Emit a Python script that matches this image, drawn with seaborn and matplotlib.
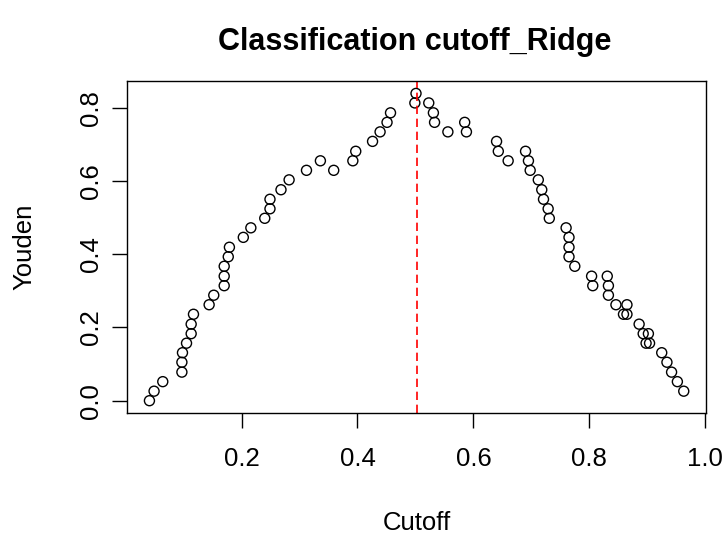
import matplotlib
matplotlib.use("Agg")
import matplotlib.pyplot as plt
import seaborn as sns
import pandas as pd

cutoff = [0.041, 0.049, 0.064, 0.097, 0.097, 0.098, 0.105, 0.113, 0.113, 0.117,
          0.144, 0.152, 0.170, 0.170, 0.170, 0.177, 0.179, 0.203, 0.216, 0.240,
          0.249, 0.249, 0.268, 0.282, 0.312, 0.336, 0.359, 0.392, 0.397, 0.426,
          0.439, 0.451, 0.457, 0.499, 0.501,
          0.523, 0.531, 0.533, 0.556, 0.585, 0.588, 0.640, 0.643, 0.660, 0.690,
          0.695, 0.698, 0.712, 0.718, 0.721, 0.729, 0.731, 0.760, 0.765, 0.765,
          0.765, 0.775, 0.804, 0.806, 0.831, 0.833, 0.833, 0.846, 0.865, 0.859,
          0.865, 0.886, 0.893, 0.902, 0.898, 0.904, 0.925, 0.934, 0.942, 0.952,
          0.963]
youden = [0.000, 0.026, 0.052, 0.078, 0.105, 0.131, 0.157, 0.183, 0.209, 0.236,
          0.262, 0.288, 0.314, 0.340, 0.367, 0.393, 0.419, 0.446, 0.472, 0.498,
          0.524, 0.550, 0.576, 0.603, 0.629, 0.655, 0.629, 0.655, 0.681, 0.708,
          0.734, 0.760, 0.786, 0.813, 0.839,
          0.813, 0.786, 0.760, 0.734, 0.760, 0.734, 0.708, 0.681, 0.655, 0.681,
          0.655, 0.629, 0.603, 0.576, 0.550, 0.524, 0.498, 0.472, 0.446, 0.419,
          0.393, 0.367, 0.340, 0.314, 0.340, 0.314, 0.288, 0.262, 0.262, 0.236,
          0.236, 0.209, 0.183, 0.183, 0.157, 0.157, 0.131, 0.105, 0.078, 0.052,
          0.026]
best_cutoff = 0.503
x_ticks = [0.2, 0.4, 0.6, 0.8, 1.0]
y_ticks = [0.0, 0.2, 0.4, 0.6, 0.8]
title = "Classification cutoff_Ridge"
x_label = "Cutoff"
y_label = "Youden"

df = pd.DataFrame({"Cutoff": cutoff, "Youden": youden})

sns.set_style("ticks")
plt.rcParams["font.family"] = ["Liberation Sans", "DejaVu Sans"]
plt.rcParams["text.color"] = "black"
plt.rcParams["axes.labelcolor"] = "black"

W, H = 722, 537
fig = plt.figure(figsize=(W / 100, H / 100), dpi=100)
L, R, T, B = 127.3, 706.0, 80.7, 413.3
ax = fig.add_axes([L / W, 1 - B / H, (R - L) / W, (B - T) / H])

sns.scatterplot(data=df, x="Cutoff", y="Youden", ax=ax, marker="o", s=52,
                facecolors="none", edgecolor="black", linewidth=1.0, legend=False)
ax.axvline(best_cutoff, color="#ff0000", linestyle=(0, (5, 2.8)), linewidth=1.2)

ax.set_xlim(0.0028, 1.0014)
ax.set_ylim(-0.0344, 0.8737)
ax.set_xticks(x_ticks)
ax.set_xticklabels([f"{v:.1f}" for v in x_ticks])
ax.set_yticks(y_ticks)
ax.set_yticklabels([f"{v:.1f}" for v in y_ticks], rotation=90, va="center")
ax.tick_params(axis="both", direction="out", length=10.5, width=1.0,
               color="black", labelsize=18.5, labelcolor="black")
ax.tick_params(axis="x", pad=14)
ax.tick_params(axis="y", pad=7)
for sp in ax.spines.values():
    sp.set_visible(True)
    sp.set_color("black")
    sp.set_linewidth(1.0)

ax.set_xlabel(x_label, fontsize=18.5, color="black")
ax.set_ylabel(y_label, fontsize=18.5, color="black")
ax.xaxis.set_label_coords(0.5, (B - 523) / (B - T))
ax.xaxis.label.set_va("center")
ax.yaxis.set_label_coords((24 - L) / (R - L), 0.5)
ax.yaxis.label.set_va("center")

fig.text(415 / W, 1 - 42 / H, title, ha="center", va="center",
         fontsize=22, fontweight="bold", color="black")

fig.savefig("out.png", dpi=100, facecolor="white")
